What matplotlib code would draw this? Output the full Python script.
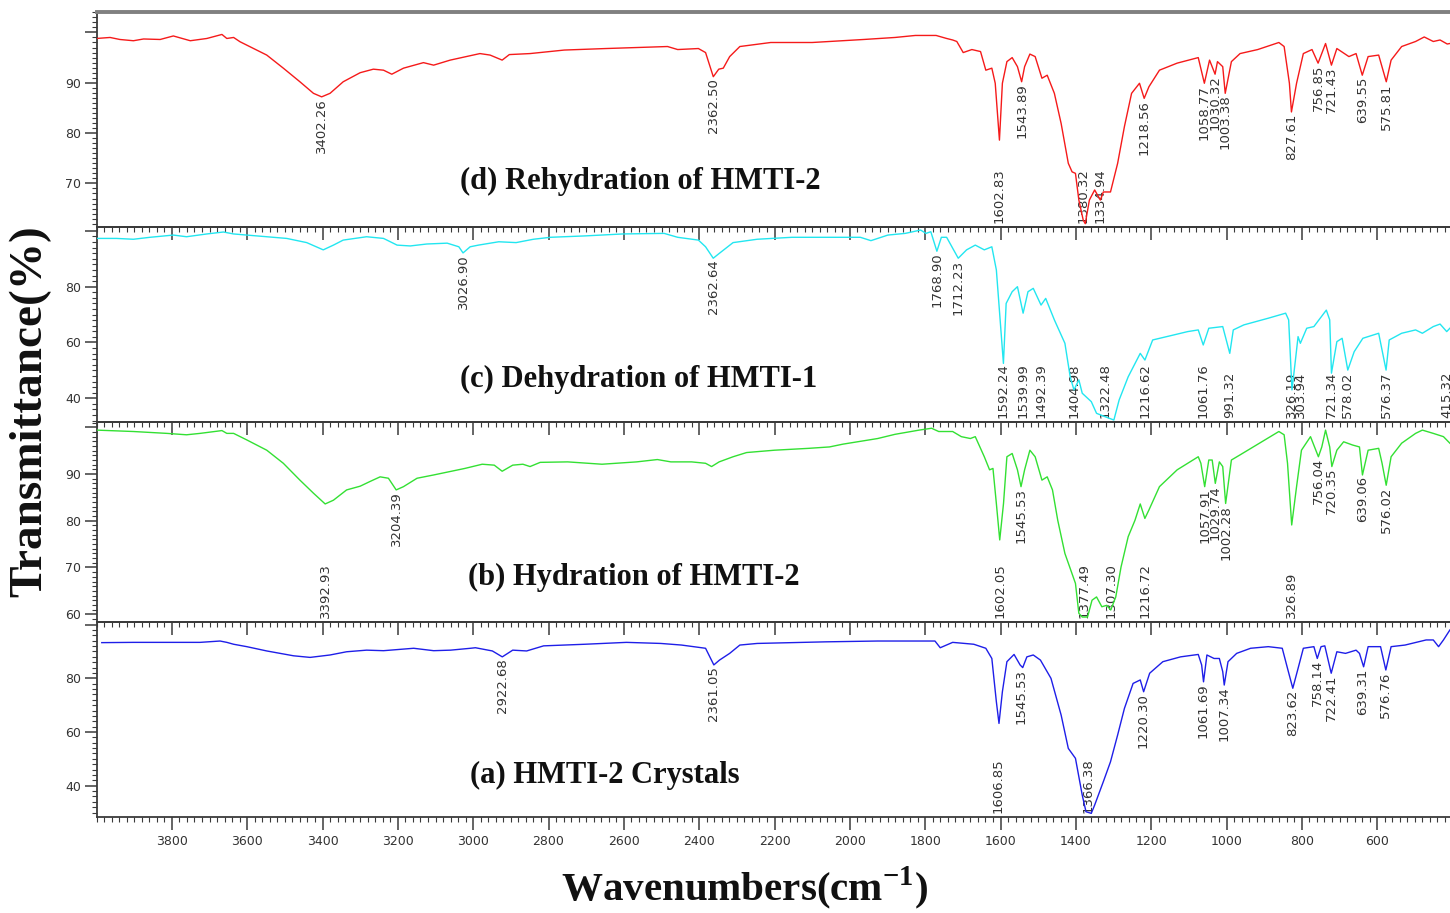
import numpy as np
import matplotlib
matplotlib.use('Agg')
import matplotlib.pyplot as plt
from matplotlib.ticker import MultipleLocator, FixedLocator, FuncFormatter

# ---------------- data ----------------
# (d) Rehydration of HMTI-2
wn_d = [4000, 3964, 3938, 3902, 3875, 3831, 3796, 3751, 3707, 3667, 3654, 3636, 3619, 3583,
        3548, 3504, 3460, 3424, 3402.26, 3380, 3345, 3300, 3265, 3238, 3216, 3185, 3132, 3105,
        3061, 2982, 2955, 2923, 2904, 2849, 2758, 2648, 2566, 2484, 2457, 2402, 2383, 2362.50,
        2348, 2336, 2319, 2292, 2210, 2100, 1963, 1880, 1826, 1771, 1743, 1727, 1716, 1699,
        1676, 1653, 1639, 1623, 1614, 1602.83, 1595, 1583, 1569, 1555, 1543.89, 1536, 1522,
        1508, 1490, 1476, 1457, 1439, 1420, 1410, 1401, 1392, 1380.32, 1375, 1364, 1350,
        1334.94, 1327, 1308, 1289, 1271, 1252, 1231, 1218.56, 1206, 1178, 1131, 1075, 1058.77,
        1045, 1030.32, 1024, 1010, 1003.38, 987, 964, 917, 861, 847, 833, 827.61, 814, 796, 773,
        756.85, 737, 721.43, 707, 675, 656, 639.55, 624, 596, 575.81, 563, 535, 498, 475, 451,
        433, 414, 407]
tr_d = [98.8, 99.0, 98.6, 98.35, 98.7, 98.6, 99.3, 98.35, 98.8, 99.6, 98.8, 99.0, 98.15, 96.8,
        95.5, 92.9, 90.2, 87.9, 87.2, 87.9, 90.2, 92.0, 92.7, 92.5, 91.7, 92.9, 94.0, 93.5,
        94.5, 95.8, 95.5, 94.5, 95.6, 95.8, 96.5, 96.8, 97.0, 97.2, 96.6, 96.8, 96.0, 91.2,
        92.7, 92.9, 95.2, 97.2, 98.0, 98.0, 98.6, 99.0, 99.4, 99.4, 98.8, 98.5, 98.2, 96.0,
        96.6, 96.2, 92.5, 92.9, 89.9, 78.6, 89.9, 94.2, 95.0, 93.2, 90.2, 93.2, 95.7,
        95.2, 90.9, 91.5, 87.9, 81.9, 74.0, 72.3, 72.0, 66.7, 62.7, 62.0, 66.7, 68.7,
        66.7, 68.3, 68.3, 74.0, 81.3, 87.9, 89.9, 86.9, 89.2, 92.5, 93.9, 95.0, 89.9,
        94.5, 91.7, 94.2, 93.2, 87.9, 94.2, 95.8, 96.6, 98.0, 97.2, 89.9, 84.2, 89.9, 95.8, 96.6,
        93.9, 97.8, 93.5, 96.8, 95.2, 95.8, 91.5, 95.2, 95.5, 90.2, 94.5, 97.2, 98.2, 99.1, 98.2,
        98.5, 97.7, 97.8]
peak_text_d = ['3402.26', '2362.50', '1602.83', '1543.89', '1380.32', '1334.94', '1218.56',
               '1058.77', '1030.32', '1003.38', '827.61', '756.85', '721.43', '639.55', '575.81']
peak_wn_d = [3402.26, 2362.50, 1602.83, 1543.89, 1380.32, 1334.94, 1218.56,
             1058.77, 1030.32, 1003.38, 827.61, 756.85, 721.43, 639.55, 575.81]

# (c) Dehydration of HMTI-1
wn_c = [4000, 3947, 3902, 3858, 3796, 3761, 3707, 3663, 3636, 3601, 3548, 3495, 3442, 3398,
        3371, 3345, 3283, 3238, 3202, 3167, 3123, 3069, 3038, 3026.90, 3008, 2986, 2932, 2886,
        2840, 2795, 2703, 2603, 2493, 2457, 2402, 2383, 2362.64, 2346, 2310, 2246, 2154, 2063,
        1972, 1944, 1899, 1853, 1812, 1798, 1785, 1768.90, 1757, 1743, 1712.23, 1690, 1667,
        1643, 1623, 1611, 1592.24, 1585, 1569, 1555, 1539.99, 1527, 1513, 1492.39, 1480, 1457,
        1429, 1415, 1404.98, 1392, 1383, 1359, 1345, 1322.48, 1299, 1285, 1261, 1229, 1216.62,
        1196, 1140, 1103, 1075, 1061.76, 1047, 1010, 991.32, 982, 954, 889, 843, 835, 826.19,
        817, 810, 803.94, 787, 768, 735, 726, 721.34, 707, 693, 678.02, 661, 638, 596, 576.37,
        568, 535, 498, 480, 451, 433, 415.32, 407]
tr_c = [97.3, 97.3, 97.0, 97.7, 98.5, 97.9, 98.9, 99.6, 98.9, 98.5, 97.9, 97.3, 95.8, 93.2,
        94.9, 96.7, 97.9, 97.3, 94.9, 94.6, 95.3, 95.6, 94.3, 92.1, 94.3, 94.9, 96.1, 95.8,
        97.0, 97.7, 98.2, 98.9, 99.1, 97.7, 96.7, 94.3, 90.2, 92.0, 95.8, 97.0, 97.7, 97.7,
        97.7, 96.5, 98.5, 99.1, 100.3, 99.1, 99.7, 92.7, 97.7, 97.7, 90.2, 93.2, 94.9,
        93.2, 94.3, 86.0, 52.5, 74.0, 78.2, 80.0, 70.5, 78.2, 79.4, 73.4, 75.8, 68.1,
        59.7, 47.7, 43.0, 46.6, 41.8, 38.8, 34.6, 33.4, 32.2, 39.4, 47.7, 56.1, 53.7,
        60.9, 62.7, 63.9, 64.5, 59.1, 65.1, 65.7, 56.1, 64.5, 66.3, 68.7, 70.5, 68.1, 43.0,
        53.7, 62.1, 59.7, 65.1, 65.7, 71.6, 68.1, 49.0, 60.3, 61.5, 50.1, 56.7, 61.5, 63.3, 50.1,
        60.9, 63.3, 64.5, 63.3, 65.7, 66.6, 63.9, 65.1]
peak_text_c = ['3026.90', '2362.64', '1768.90', '1712.23', '1592.24', '1539.99', '1492.39',
               '1404.98', '1322.48', '1216.62', '1061.76', '991.32', '326.19', '303.94',
               '721.34', '578.02', '576.37', '415.32']
peak_wn_c = [3026.90, 2362.64, 1768.90, 1712.23, 1592.24, 1539.99, 1492.39,
             1404.98, 1322.48, 1216.62, 1061.76, 991.32, 826.19, 803.94,
             721.34, 678.02, 576.37, 415.32]

# (b) Hydration of HMTI-2
wn_b = [4000, 3902, 3813, 3761, 3725, 3667, 3654, 3636, 3601, 3548, 3504, 3460, 3424, 3392.93,
        3371, 3336, 3300, 3274, 3247, 3225, 3204.39, 3185, 3149, 3105, 3022, 2976, 2944, 2923,
        2895, 2868, 2849, 2822, 2749, 2658, 2566, 2511, 2475, 2420, 2383, 2367, 2347, 2310,
        2274, 2200, 2109, 2054, 2018, 1926, 1880, 1816, 1783, 1764, 1727, 1704, 1680, 1667,
        1643, 1629, 1620, 1611, 1602.05, 1592, 1583, 1569, 1555, 1545.53, 1536, 1522, 1508,
        1490, 1476, 1462, 1448, 1429, 1410, 1401, 1392, 1383, 1369, 1357, 1345, 1331, 1318,
        1307.30, 1294, 1280, 1261, 1243, 1229, 1216.72, 1206, 1178, 1131, 1075, 1068, 1057.91,
        1047, 1038, 1029.74, 1019, 1010, 1002.28, 987, 964, 898, 861, 847, 838, 826.89, 814,
        801, 777, 756.04, 747, 737, 726, 720.35, 707, 689, 665, 647, 639.06, 624, 596, 587,
        576.02, 563, 535, 498, 480, 451, 424, 407]
tr_b = [99.4, 99.1, 98.7, 98.4, 98.7, 99.3, 98.7, 98.7, 97.3, 95.1, 92.3, 88.7, 85.9, 83.6,
        84.4, 86.6, 87.4, 88.4, 89.4, 89.1, 86.6, 87.3, 89.1, 89.8, 91.2, 92.1, 91.9, 90.6,
        91.9, 92.1, 91.6, 92.5, 92.6, 92.1, 92.6, 93.1, 92.6, 92.6, 92.3, 91.6, 92.6, 93.7,
        94.6, 95.1, 95.5, 95.8, 96.4, 97.6, 98.5, 99.4, 99.8, 99.1, 99.1, 98.0, 97.6, 98.0,
        93.7, 90.9, 91.2, 83.7, 75.9, 83.7, 93.7, 94.4, 90.9, 87.3, 90.9, 95.1, 93.7,
        88.7, 89.4, 86.6, 80.1, 73.0, 68.7, 66.6, 60.2, 59.4, 59.4, 63.0, 63.7, 61.6, 61.9,
        60.9, 63.7, 70.1, 76.6, 80.1, 83.6, 80.5, 82.3, 87.3, 90.9, 93.7, 92.3, 87.3,
        93.0, 93.0, 88.0, 92.6, 91.6, 83.7, 93.0, 94.1, 97.3, 99.1, 98.4, 92.3, 79.1, 87.3,
        95.1, 98.0, 93.7, 95.8, 99.4, 95.8, 91.6, 95.1, 96.9, 96.2, 95.8, 89.8, 95.1, 95.5, 92.3,
        87.6, 93.7, 96.6, 98.7, 99.4, 98.7, 98.0, 96.6]
peak_text_b = ['3392.93', '3204.39', '1602.05', '1545.53', '1377.49', '1307.30', '1216.72',
               '1057.91', '1029.74', '1002.28', '326.89', '756.04', '720.35', '639.06', '576.02']
peak_wn_b = [3392.93, 3204.39, 1602.05, 1545.53, 1377.49, 1307.30, 1216.72,
             1057.91, 1029.74, 1002.28, 826.89, 756.04, 720.35, 639.06, 576.02]

# (a) HMTI-2 Crystals
wn_a = [3986, 3902, 3813, 3725, 3672, 3654, 3636, 3601, 3548, 3477, 3433, 3380, 3336, 3283,
        3238, 3158, 3105, 3060, 3007, 2994, 2949, 2922.68, 2895, 2858, 2813, 2703, 2593, 2502,
        2447, 2383, 2361.05, 2346, 2319, 2292, 2246, 2063, 1926, 1789, 1774, 1760, 1727, 1671,
        1639, 1623, 1611, 1604, 1595, 1583, 1564, 1548, 1541, 1530, 1513, 1494, 1466, 1439,
        1420, 1401, 1383, 1373, 1359, 1350, 1327, 1308, 1289, 1271, 1248, 1229, 1220, 1204,
        1169, 1122, 1075, 1066, 1061, 1052, 1033, 1019, 1010, 1006, 996, 973, 936, 889, 852,
        838, 824, 810, 796, 768, 759, 749, 739, 722, 707, 684, 656, 647, 636, 624, 591, 577,
        563, 526, 470, 451, 437, 424, 407]
tr_a = [93.3, 93.4, 93.4, 93.4, 93.9, 93.4, 92.7, 91.8, 90.2, 88.4, 87.8, 88.7, 89.9, 90.5,
        90.3, 91.2, 90.3, 90.5, 91.2, 91.4, 90.2, 88.0, 90.5, 90.2, 92.1, 92.7, 93.4, 93.0,
        92.4, 91.2, 85.0, 86.8, 89.3, 92.4, 93.0, 93.6, 93.9, 93.9, 93.9, 91.4, 93.4, 92.7,
        91.2, 87.4, 71.3, 63.2, 75.0, 86.2, 88.9, 85.0, 84.0, 88.0, 88.7, 86.8, 80.0, 66.3,
        53.9, 50.2, 36.5, 30.3, 29.7, 32.8, 41.5, 48.9, 58.9, 68.8, 78.1, 79.4, 75.0, 81.9,
        86.2, 88.0, 88.9, 85.0, 78.7, 88.7, 87.4, 87.4, 82.5, 77.5, 86.2, 89.3, 91.2, 91.8, 91.2,
        83.7, 76.3, 83.7, 91.2, 91.8, 87.4, 91.8, 92.1, 81.9, 89.9, 89.3, 90.5, 89.3, 84.3, 91.8,
        91.8, 83.1, 91.8, 92.4, 94.3, 94.3, 91.8, 94.3, 98.0]
peak_text_a = ['2922.68', '2361.05', '1606.85', '1545.53', '1366.38', '1220.30', '1061.69',
               '1007.34', '823.62', '758.14', '722.41', '639.31', '576.76']
peak_wn_a = [2922.68, 2361.05, 1606.85, 1545.53, 1366.38, 1220.30, 1061.69,
             1007.34, 823.62, 758.14, 722.41, 639.31, 576.76]

panel_titles = ['(d) Rehydration of HMTI-2', '(c) Dehydration of HMTI-1',
                '(b) Hydration of HMTI-2', '(a) HMTI-2 Crystals']
x_ticks = [3800, 3600, 3400, 3200, 3000, 2800, 2600, 2400, 2200, 2000, 1800, 1600,
           1400, 1200, 1000, 800, 600]

# ---------------- layout / style ----------------
W, H = 1450, 913
fig = plt.figure(figsize=(W / 100, H / 100), dpi=100)
X0, X1 = 96.5, 1452.5


def rect(top, bottom):
    return [X0 / W, 1 - bottom / H, (X1 - X0) / W, (bottom - top) / H]


panels = [
    dict(wn=wn_d, tr=tr_d, ptext=peak_text_d, pwn=peak_wn_d, color='#f51a1a',
         box=(12, 226.7), ylim=(61.4, 104.06), yt=[70, 80, 90, 100], ymin=1,
         bottom_labels={'1602.83', '1380.32', '1334.94'},
         title_xy=(3035, 70.3)),
    dict(wn=wn_c, tr=tr_c, ptext=peak_text_c, pwn=peak_wn_c, color='#22e6f0',
         box=(226.7, 421.7), ylim=(31.6, 101.5), yt=[40, 60, 80, 100], ymin=2,
         bottom_labels={'1592.24', '1539.99', '1492.39', '1404.98', '1322.48', '1216.62',
                        '1061.76', '991.32', '326.19', '303.94', '721.34', '578.02',
                        '576.37', '415.32'},
         title_xy=(3035, 46.6)),
    dict(wn=wn_b, tr=tr_b, ptext=peak_text_b, pwn=peak_wn_b, color='#33e033',
         box=(421.7, 621.7), ylim=(58.4, 101.2), yt=[60, 70, 80, 90, 100], ymin=1,
         bottom_labels={'3392.93', '1602.05', '1377.49', '1307.30', '1216.72', '326.89'},
         title_xy=(3014, 67.9)),
    dict(wn=wn_a, tr=tr_a, ptext=peak_text_a, pwn=peak_wn_a, color='#1e1ee8',
         box=(621.7, 816.7), ylim=(28.45, 101.1), yt=[40, 60, 80, 100], ymin=2,
         bottom_labels={'1606.85', '1366.38'},
         title_xy=(3009, 44.0)),
]

SPINE = '#3a3a3a'
TXT = '#333333'
serif = ['Liberation Serif', 'DejaVu Serif']
plt.rcParams['mathtext.fontset'] = 'custom'
plt.rcParams['mathtext.rm'] = 'Liberation Serif:bold'
plt.rcParams['mathtext.bf'] = 'Liberation Serif:bold'

for i, p in enumerate(panels):
    ax = fig.add_axes(rect(*p['box']))
    ax.set_facecolor('none')
    ax.plot(p['wn'], p['tr'], color=p['color'], lw=1.0, zorder=3)
    ax.set_xlim(4000, 400)
    ax.set_ylim(*p['ylim'])

    ax.xaxis.set_major_locator(FixedLocator(x_ticks))
    ax.xaxis.set_minor_locator(MultipleLocator(20))
    ax.yaxis.set_major_locator(FixedLocator(p['yt']))
    ax.yaxis.set_minor_locator(MultipleLocator(p['ymin']))
    ax.yaxis.set_major_formatter(FuncFormatter(lambda v, pos: '' if v >= 100 else f'{v:.0f}'))

    ax.tick_params(axis='both', which='major', direction='out', length=9, width=1.1,
                   colors=SPINE, labelcolor=TXT, labelsize=9)
    ax.tick_params(axis='both', which='minor', direction='out', length=3.5, width=0.8,
                   colors=SPINE)
    ax.tick_params(axis='x', pad=4)
    ax.tick_params(axis='y', pad=2)
    if i < 3:
        ax.tick_params(axis='x', labelbottom=False)
    for s in ax.spines.values():
        s.set_color(SPINE)
        s.set_linewidth(1.3)
    if i == 0:
        ax.spines['top'].set_color('#808080')
        ax.spines['top'].set_linewidth(2.8)

    wn_arr = np.asarray(p['wn'])
    tr_arr = np.asarray(p['tr'])
    ybot = p['ylim'][0]
    for txt, w in zip(p['ptext'], p['pwn']):
        if txt in p['bottom_labels']:
            ax.annotate(txt, xy=(w, ybot), xytext=(0, 3), textcoords='offset points',
                        rotation=90, ha='center', va='bottom', fontsize=9.5,
                        color=TXT, zorder=2, annotation_clip=False)
        else:
            sel = np.abs(wn_arr - w) <= 8
            ymin_here = tr_arr[sel].min() if sel.any() else np.interp(w, wn_arr[::-1], tr_arr[::-1])
            ax.annotate(txt, xy=(w, ymin_here), xytext=(0, -1), textcoords='offset points',
                        rotation=90, ha='center', va='top', fontsize=9.5,
                        color=TXT, zorder=2)

    ax.text(p['title_xy'][0], p['title_xy'][1], panel_titles[i], family=serif,
            fontweight='bold', fontsize=22, ha='left', va='center', color='#111111')

fig.text(30 / W, 1 - 411 / H, 'Transmittance(%)', rotation=90, family=serif,
         fontweight='bold', fontsize=34, ha='center', va='center', color='#111111')
fig.text(745 / W, 1 - 901 / H, r'Wavenumbers(cm$^{\mathbf{-1}}$)', family=serif,
         fontweight='bold', fontsize=29.5, ha='center', va='baseline', color='#111111')

fig.savefig('out.png', dpi=100)
